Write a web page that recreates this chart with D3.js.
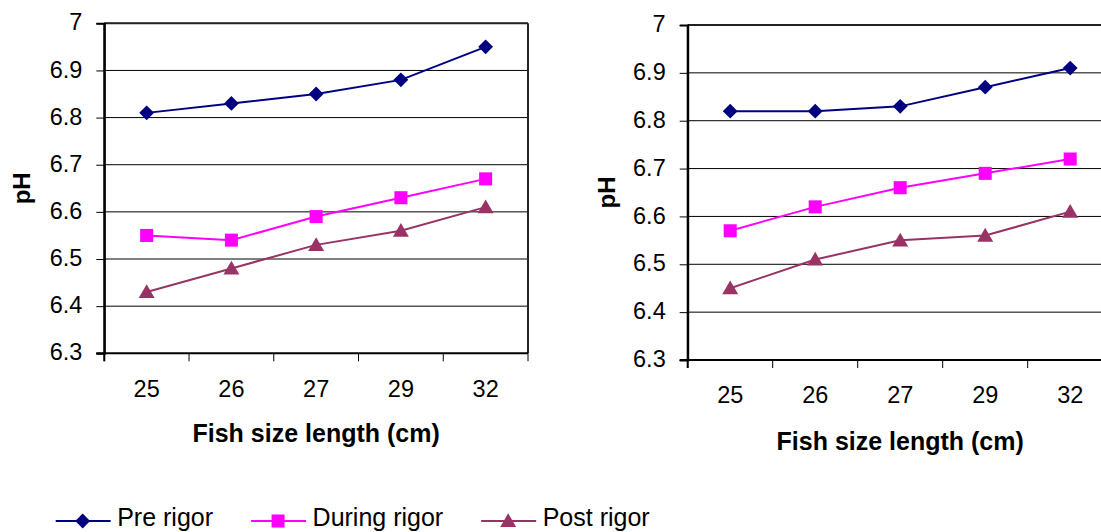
<!DOCTYPE html>
<html>
<head>
<meta charset="utf-8">
<script src="https://cdn.jsdelivr.net/npm/d3@7"></script>
<style>
  html, body { margin: 0; padding: 0; background: #fff; }
  svg { display: block; }
  text { font-family: "Liberation Sans", Arial, sans-serif; fill: #000; }
</style>
</head>
<body>
<svg id="chart" width="1101" height="532"></svg>
<script>
// Fish size categories (cm) and pH tick values
const sizes = ["25", "26", "27", "29", "32"];
const phTicks = [6.3, 6.4, 6.5, 6.6, 6.7, 6.8, 6.9, 7.0];
const seriesNames = ["Pre rigor", "During rigor", "Post rigor"];

// Panel A
const preA    = [6.81, 6.83, 6.85, 6.88, 6.95];
const duringA = [6.55, 6.54, 6.59, 6.63, 6.67];
const postA   = [6.43, 6.48, 6.53, 6.56, 6.61];

// Panel B
const preB    = [6.82, 6.82, 6.83, 6.87, 6.91];
const duringB = [6.57, 6.62, 6.66, 6.69, 6.72];
const postB   = [6.45, 6.51, 6.55, 6.56, 6.61];

const colors = ["#000080", "#FF00FF", "#993366"];
const shapes = [d3.symbolDiamond2, d3.symbolSquare, d3.symbolTriangle];
const shapeSizes = [140, 170, 110];

const svg = d3.select("#chart");

function drawMarker(g, i, cx, cy) {
  const sym = d3.symbol().type(shapes[i]).size(shapeSizes[i]);
  let dy = 0;
  if (i === 2) dy = 1.5;
  g.append("path")
    .attr("d", sym())
    .attr("transform", `translate(${cx},${cy + dy})`)
    .attr("fill", colors[i]);
}

function panel(opts, series) {
  const { left, top, width, height, labelGap, titleY, phX } = opts;
  const g = svg.append("g").attr("transform", `translate(${left},${top})`);

  const x = d3.scaleBand().domain(sizes).range([0, width]).paddingInner(0).paddingOuter(0);
  const y = d3.scaleLinear().domain([6.3, 7.0]).range([height, 0]);

  // horizontal gridlines
  g.append("g").selectAll("line").data(phTicks.slice(1)).join("line")
    .attr("x1", 0).attr("x2", width)
    .attr("y1", d => y(d)).attr("y2", d => y(d))
    .attr("stroke", "#000").attr("stroke-width", 1);

  // plot frame (top and right)
  g.append("line").attr("x1", 0).attr("x2", width).attr("y1", 0).attr("y2", 0)
    .attr("stroke", "#222").attr("stroke-width", 2);
  g.append("line").attr("x1", width).attr("x2", width).attr("y1", 0).attr("y2", height)
    .attr("stroke", "#222").attr("stroke-width", 2);

  // y axis
  const yAxis = d3.axisLeft(y).tickValues(phTicks).tickSize(8).tickPadding(14)
    .tickFormat(d => d === 7 ? "7" : d3.format(".1f")(d));
  const ya = g.append("g").call(yAxis);
  ya.select(".domain").attr("stroke", "#000").attr("stroke-width", 2);
  ya.selectAll(".tick line").attr("stroke", "#000").attr("stroke-width", 1);
  ya.selectAll(".tick text")
    .attr("font-size", 23.5).attr("dy", "0.28em")
    .style("font-family", "'Liberation Sans', Arial, sans-serif");

  // x axis: labels at band centres, tick marks at band edges
  const xAxis = d3.axisBottom(x).tickSize(0).tickPadding(0);
  const xa = g.append("g").attr("transform", `translate(0,${height})`).call(xAxis);
  xa.select(".domain").remove();
  xa.selectAll(".tick text")
    .attr("font-size", 23.5).attr("y", labelGap).attr("dy", 0)
    .style("font-family", "'Liberation Sans', Arial, sans-serif");
  const edges = sizes.map(s => x(s)).concat([width]);
  xa.selectAll("line.edge").data(edges).join("line").attr("class", "edge")
    .attr("x1", d => d).attr("x2", d => d).attr("y1", 0).attr("y2", 8)
    .attr("stroke", "#000").attr("stroke-width", 1);
  g.append("line").attr("x1", -8).attr("x2", width).attr("y1", height).attr("y2", height)
    .attr("stroke", "#000").attr("stroke-width", 2);
  g.append("line").attr("x1", 0).attr("x2", 0).attr("y1", 0).attr("y2", height + 8)
    .attr("stroke", "#000").attr("stroke-width", 2);

  // series lines and markers
  const line = d3.line().x((d, i) => x(sizes[i]) + x.bandwidth() / 2).y(d => y(d));
  series.forEach((vals, si) => {
    g.append("path").datum(vals).attr("d", line)
      .attr("fill", "none").attr("stroke", colors[si]).attr("stroke-width", 2);
    vals.forEach((v, i) => drawMarker(g, si, x(sizes[i]) + x.bandwidth() / 2, y(v)));
  });

  // axis titles
  g.append("text")
    .attr("x", width / 2).attr("y", titleY)
    .attr("text-anchor", "middle").attr("font-size", 25).attr("font-weight", "bold")
    .text("Fish size length (cm)");
  g.append("text")
    .attr("transform", `translate(${phX},${height / 2}) rotate(-90)`)
    .attr("text-anchor", "middle").attr("font-size", 24).attr("font-weight", "bold")
    .text("pH");
}

panel({ left: 104.3, top: 23.3, width: 423.7, height: 330, labelGap: 43.7, titleY: 418.4, phX: -74 },
      [preA, duringA, postA]);
panel({ left: 687.7, top: 25, width: 425, height: 335, labelGap: 43, titleY: 425, phX: -72.7 },
      [preB, duringB, postB]);

// legend
const legend = svg.append("g").attr("transform", "translate(55.7,0)");
let lx = 0;
seriesNames.forEach((name, i) => {
  const item = legend.append("g").attr("transform", `translate(${lx},0)`);
  item.append("line").attr("x1", 0).attr("x2", 55).attr("y1", 521).attr("y2", 521)
    .attr("stroke", colors[i]).attr("stroke-width", 2);
  drawMarker(item, i, 27, 521);
  const t = item.append("text").attr("x", 61.5).attr("y", 526)
    .attr("font-size", 25).text(name);
  const w = t.node().getComputedTextLength();
  lx += 61.5 + w + 38;
});
</script>
</body>
</html>
